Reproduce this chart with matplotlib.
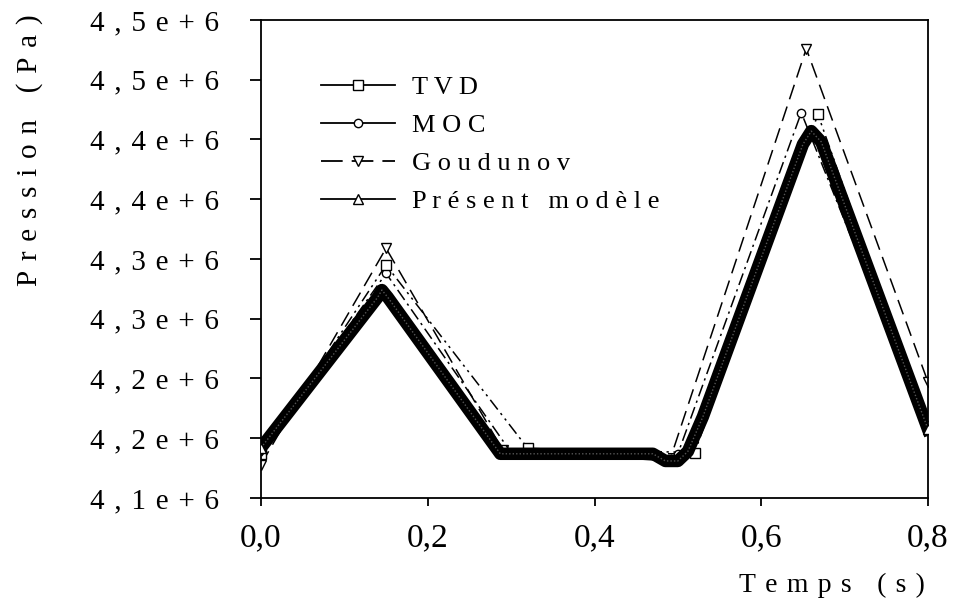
import numpy as np
import matplotlib.pyplot as plt
from matplotlib.lines import Line2D

# data (time in s, pressure in 1e6 Pa)
t_tvd = [0.0, 0.15, 0.32, 0.52, 0.668, 0.8]
p_tvd = [4.1367, 4.295, 4.1415, 4.138, 4.421, 4.160]

t_moc = [0.0, 0.15, 0.30, 0.50, 0.648, 0.8]
p_moc = [4.140, 4.288, 4.138, 4.137, 4.4225, 4.158]

t_god = [0.0, 0.15, 0.29, 0.49, 0.654, 0.8]
p_god = [4.128, 4.309, 4.140, 4.131, 4.476, 4.197]

t_mod = [0.0, 0.14, 0.145, 0.152, 0.287, 0.47, 0.485, 0.50, 0.512, 0.53,
         0.65, 0.66, 0.672, 0.8]
p_mod = [4.142, 4.268, 4.274, 4.268, 4.137, 4.137, 4.131, 4.131, 4.139, 4.168,
         4.396, 4.407, 4.398, 4.1575]

yticks = [4.10, 4.15, 4.20, 4.25, 4.30, 4.35, 4.40, 4.45, 4.50]
ylabels = ["4,1e+6", "4,2e+6", "4,2e+6", "4,3e+6", "4,3e+6",
           "4,4e+6", "4,4e+6", "4,5e+6", "4,5e+6"]
xticks = [0.0, 0.2, 0.4, 0.6, 0.8]
xlabels = ["0,0", "0,2", "0,4", "0,6", "0,8"]

names = ["TVD", "MOC", "Goudunov", "Présent modèle"]

SP = "\u2004"  # letter spacing like the original


def spaced(s, sep=SP):
    return sep.join(s)


plt.rcParams['font.family'] = ['Liberation Serif', 'DejaVu Serif']
plt.rcParams['font.size'] = 20

fig = plt.figure(figsize=(9.56, 6.08), dpi=100)
ax = fig.add_axes([261/956, 1-498/608, (928-261)/956, (498-20)/608])

ms = 7
ax.plot(t_god, p_god, color='black', lw=1.1, ls=(0, (10, 5)), marker='v',
        ms=ms, mfc='white', mec='black', mew=1, zorder=2)
ax.plot(t_moc, p_moc, color='black', lw=1.1, ls=(0, (8, 3, 1.5, 3)), marker='o',
        ms=ms-1, mfc='white', mec='black', mew=1, zorder=2)
ax.plot(t_tvd, p_tvd, color='black', lw=1.1, ls=(0, (8, 3, 1.5, 3, 1.5, 3)), marker='s',
        ms=ms, mfc='white', mec='black', mew=1, zorder=2)
ax.plot(t_mod, p_mod, color='black', lw=9, solid_joinstyle='round', zorder=3)
ax.plot(t_mod, p_mod, color='#555555', lw=1, ls=(0, (1, 1.5)), zorder=4)
ax.plot([t_mod[0], t_mod[-1]], [p_mod[0], p_mod[-1]], ls='none', marker='^',
        ms=ms, mfc='white', mec='black', mew=1, zorder=5)

ax.set_xlim(0, 0.8)
ax.set_ylim(4.10, 4.50)
ax.set_yticks(yticks)
ax.set_yticklabels([spaced(l) for l in ylabels], fontsize=21)
ax.set_xticks(xticks)
ax.set_xticklabels(xlabels, fontsize=24)
ax.tick_params(axis='y', direction='out', length=8, width=1.3, pad=22)
ax.tick_params(axis='x', direction='out', length=6, width=1.3, pad=12)
for s in ax.spines.values():
    s.set_linewidth(1.3)

fig.text(30/956, 1-150/608, spaced("Pression (Pa)"), rotation=90,
         ha='center', va='center', fontsize=21)
fig.text(925/956, 1-585/608, spaced("Temps (s)"), ha='right', va='center',
         fontsize=20)

handles = [
    Line2D([], [], color='black', lw=1.3, marker='s', ms=ms, mfc='white', mec='black'),
    Line2D([], [], color='black', lw=1.3, marker='o', ms=ms-1, mfc='white', mec='black'),
    Line2D([], [], color='black', lw=1.3, ls=(0, (12, 5)), marker='v', ms=ms, mfc='white', mec='black'),
    Line2D([], [], color='black', lw=1.3, marker='^', ms=ms, mfc='white', mec='black'),
]
ax.legend(handles, [spaced(n, " ") for n in names], loc='upper left',
          bbox_to_anchor=(321/956, 1-76/608), bbox_transform=fig.transFigure,
          frameon=False, handlelength=2.8, handletextpad=0.65, labelspacing=0.55,
          borderpad=0, borderaxespad=0, fontsize=19)

fig.savefig('out.png', dpi=100)
